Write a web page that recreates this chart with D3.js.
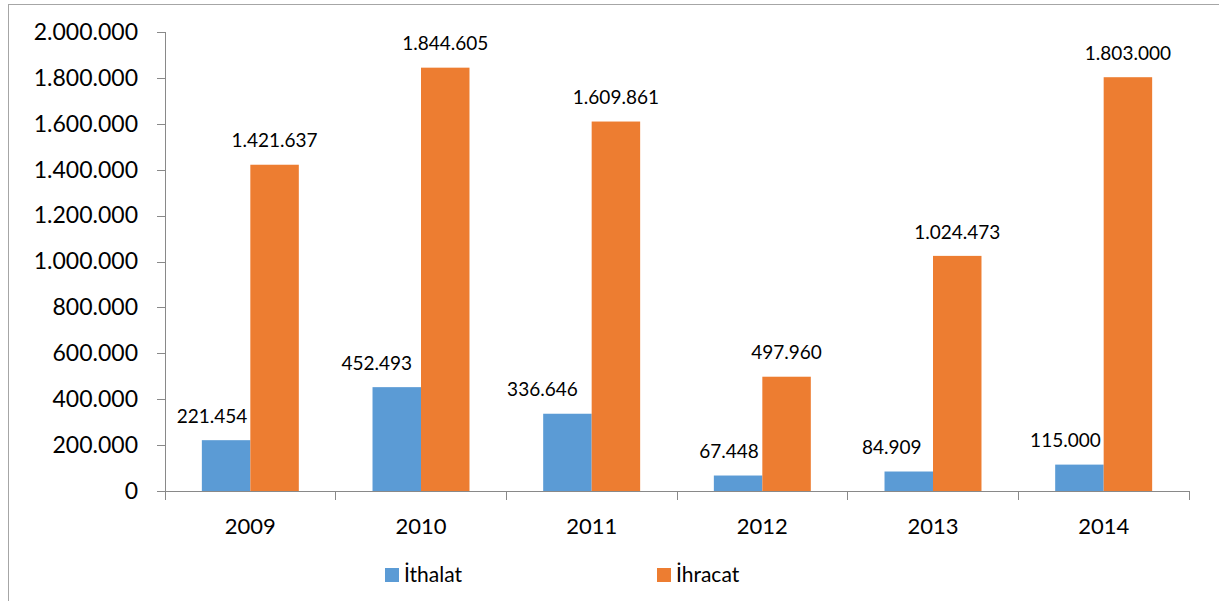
<!DOCTYPE html>
<meta charset="utf-8">
<style>
    body { margin: 0; background: #fff; }
    .axis path, .axis line { fill: none; stroke: #898989; shape-rendering: crispEdges; }
    text { font-family: Lato, "Open Sans", sans-serif; fill: #000; }
</style>

<svg width="1219" height="601"></svg>

<script src="https://cdn.jsdelivr.net/npm/d3@7"></script>

<script>
    // yillara gore ithalat / ihracat
    var years = ["2009", "2010", "2011", "2012", "2013", "2014"];
    var ithalat = [221454, 452493, 336646, 67448, 84909, 115000];
    var ihracat = [1421637, 1844605, 1609861, 497960, 1024473, 1803000];
    var seriesNames = ["İthalat", "İhracat"];
    var yTicks = [0, 200000, 400000, 600000, 800000, 1000000, 1200000, 1400000, 1600000, 1800000, 2000000];

    (function () {
        var svg = d3.select("svg"),
            left = 165, right = 1189, top = 32, bottom = 491,
            colors = ["#5B9BD5", "#ED7D31"],
            // ithalat etiketleri biraz sola kaydirilmis
            labelShift = [[-14, -20, -25, -9, -17, -14], [0, 0, 0, 0, 0, 0]],
            tr = d3.formatLocale({decimal: ",", thousands: ".", grouping: [3], currency: ["", ""]}),
            fmt = tr.format(",d");

        var rows = years.map(function (y, i) {
            return {year: y, values: [ithalat[i], ihracat[i]]};
        });

        var x0 = d3.scaleBand().domain(years).range([left, right]).paddingInner(0).paddingOuter(0);
        var x1 = d3.scaleBand().domain([0, 1]).range([0, x0.bandwidth()]).paddingInner(0).paddingOuter(0.76);
        var y = d3.scaleLinear().domain([0, 2000000]).range([bottom, top]);

        // dis cerceve
        svg.append("rect")
            .attr("x", 8.5).attr("y", 4.5)
            .attr("width", 1300).attr("height", 700)
            .attr("fill", "none").attr("stroke", "#a6a6a6");

        // y ekseni
        var yAxis = d3.axisLeft(y).tickValues(yTicks).tickFormat(fmt).tickSize(8).tickPadding(19);
        var gy = svg.append("g").attr("class", "axis")
            .attr("transform", "translate(" + left + ",0)")
            .call(yAxis);
        gy.select(".domain").attr("d", "M0," + (bottom + 0.5) + "V" + top + "H-8");
        gy.selectAll("text").style("font-size", "23px");

        // barlar
        var groups = svg.append("g").selectAll("g")
            .data(rows).enter().append("g")
            .attr("transform", function (d) { return "translate(" + x0(d.year) + ",0)"; });

        groups.selectAll("rect")
            .data(function (d) { return d.values; })
            .enter().append("rect")
            .attr("x", function (d, i) { return x1(i); })
            .attr("y", function (d) { return y(d); })
            .attr("width", x1.bandwidth())
            .attr("height", function (d) { return bottom - y(d); })
            .attr("fill", function (d, i) { return colors[i]; });

        groups.each(function (row, gi) {
            d3.select(this).selectAll("text.lbl")
                .data(row.values).enter().append("text")
                .attr("class", "lbl")
                .attr("x", function (d, i) { return x1(i) + x1.bandwidth() / 2 + labelShift[i][gi]; })
                .attr("y", function (d) { return y(d) - 24; })
                .attr("dy", "0.35em")
                .attr("text-anchor", "middle")
                .style("font-size", "19px")
                .text(function (d) { return fmt(d); });
        });

        // x ekseni
        var gx = svg.append("g").attr("class", "axis");
        gx.append("line")
            .attr("x1", left).attr("x2", right)
            .attr("y1", bottom + 0.5).attr("y2", bottom + 0.5);
        gx.selectAll("line.tk")
            .data(years.concat(["end"])).enter().append("line")
            .attr("class", "tk")
            .attr("x1", function (d) { return d === "end" ? right : x0(d); })
            .attr("x2", function (d) { return d === "end" ? right : x0(d); })
            .attr("y1", bottom).attr("y2", bottom + 9);
        gx.selectAll("text")
            .data(years).enter().append("text")
            .attr("x", function (d) { return x0(d) + x0.bandwidth() / 2; })
            .attr("y", 526)
            .attr("dy", "0.35em")
            .attr("text-anchor", "middle")
            .style("font-size", "22px")
            .text(function (d) { return d; });

        // lejant
        var legX = [385, 657];
        var leg = svg.append("g").selectAll("g")
            .data(seriesNames).enter().append("g")
            .attr("transform", function (d, i) { return "translate(" + legX[i] + ",568)"; });
        leg.append("rect")
            .attr("width", 14).attr("height", 14)
            .attr("fill", function (d, i) { return colors[i]; });
        leg.append("text")
            .attr("x", 19).attr("y", 14)
            .style("font-size", "21px")
            .text(function (d) { return d; });
    })();
</script>
